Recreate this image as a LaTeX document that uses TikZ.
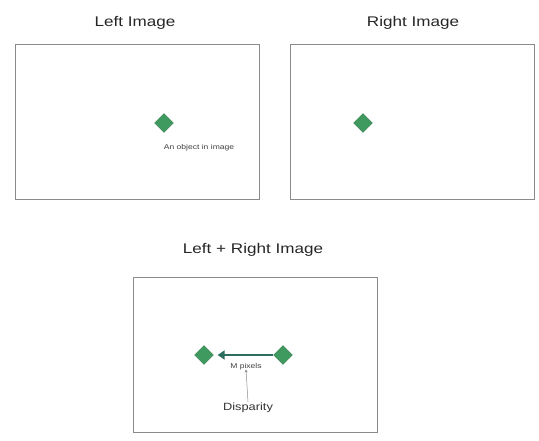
\documentclass[tikz,border=0pt]{standalone}
\usepackage{fontspec}
\setmainfont[FakeStretch=1.22]{Liberation Sans}
\usetikzlibrary{shapes.geometric,arrows.meta}
\definecolor{objgreen}{HTML}{3E9A5E}
\definecolor{arrowteal}{HTML}{2B6E5E}
\definecolor{frame}{HTML}{8A8A8A}
\tikzset{
  imgframe/.style={draw=frame, line width=1pt, fill=white},
  title/.style={font=\fontsize{14}{16}\selectfont, text=black!85},
  obj/.style={diamond, fill=objgreen, draw=objgreen!80!black, line width=0.3pt,
              minimum width=19pt, minimum height=19pt, inner sep=0pt},
  tiny/.style={font=\fontsize{7}{8}\selectfont, text=black!75, inner sep=1pt},
  small/.style={font=\fontsize{10.5}{12}\selectfont, text=black!80, inner sep=1pt},
}
\begin{document}
\begin{tikzpicture}[x=1pt, y=-1pt]
  \useasboundingbox (0,0) rectangle (539,441);

  % top row: the two camera images
  \node[title] (tl) at (135,23) {Left Image};
  \node[title] (tr) at (413,23) {Right Image};
  \draw[imgframe] (15,45) rectangle (259,200);
  \draw[imgframe] (290,45) rectangle (534,200);

  \node[obj] (oL) at (164,123) {};
  \node[tiny] (lab) at (199,148) {An object in image};
  \node[obj] (oR) at (363,123) {};

  % bottom: both images overlaid
  \node[title] (tb) at (253,250) {Left + Right Image};
  \draw[imgframe] (133,278) rectangle (377,432);

  \node[obj] (bL) at (204,355) {};
  \node[obj] (bR) at (283,355) {};
  \draw[arrowteal, line width=2.6pt, -{Triangle[length=7pt,width=9pt]}]
    (bR.west) -- ([xshift=4pt]bL.east);

  \node[tiny] (mp) at (246,367) {M pixels};
  \node[small] (disp) at (248,408) {Disparity};
  \draw[black!45, line width=0.5pt, -{Stealth[length=3pt,width=3pt]}]
    (disp.north) -- ([yshift=2pt]mp.south);
\end{tikzpicture}
\end{document}
